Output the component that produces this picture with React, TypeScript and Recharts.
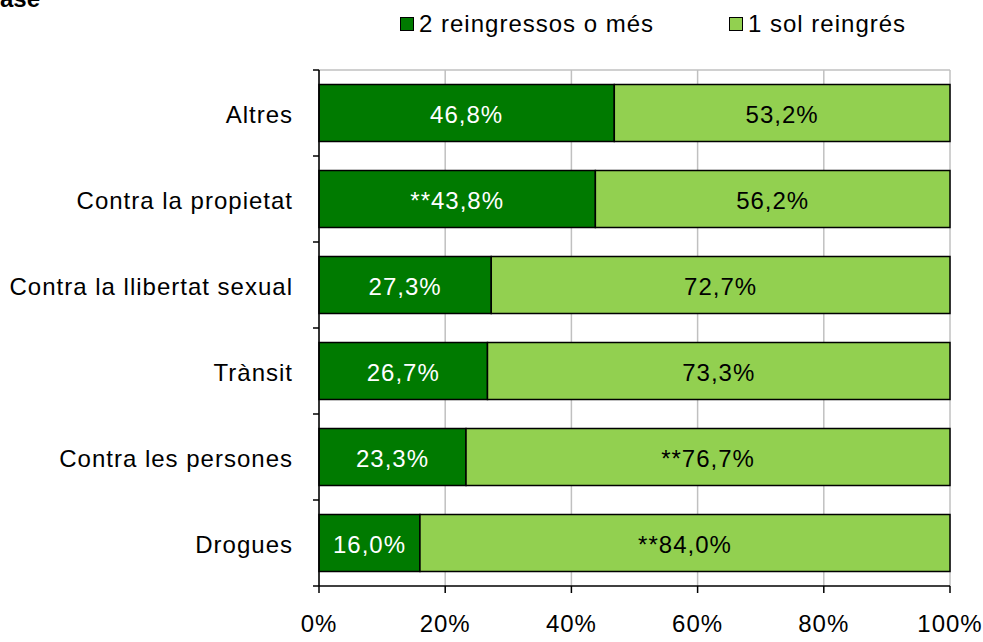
import React from 'react';
import { BarChart, Bar, XAxis, YAxis, CartesianGrid, LabelList } from 'recharts';

const categories = [
  'Altres',
  'Contra la propietat',
  'Contra la llibertat sexual',
  'Trànsit',
  'Contra les persones',
  'Drogues',
];
const twoOrMore = [46.8, 43.8, 27.3, 26.7, 23.3, 16.0];
const oneOnly = [53.2, 56.2, 72.7, 73.3, 76.7, 84.0];
// "**" marks significant differences
const twoOrMoreStars = [false, true, false, false, false, false];
const oneOnlyStars = [false, false, false, false, true, true];
const seriesNames = ['2 reingressos o més', '1 sol reingrés'];
const xTicks = [0, 20, 40, 60, 80, 100];

const DARK = '#007A00';
const LIGHT = '#92D050';
const FONT = 'Arial, "Liberation Sans", sans-serif';
const LS = 1.0;

const W = 983;
const H = 642;
const MARGIN = { top: 70, right: 33, bottom: 6, left: 0 };
const X_AXIS_H = 50;
const Y_AXIS_W = 319;
const Y_TICK = 6;
const Y_TICK_MARGIN = 20;

const data = categories.map((c, i) => ({
  name: c,
  two: twoOrMore[i],
  one: oneOnly[i],
}));

const fmt = (v: number, star: boolean) => (star ? '**' : '') + v.toFixed(1).replace('.', ',') + '%';

const bandSize = (H - MARGIN.top - MARGIN.bottom - X_AXIS_H) / categories.length;

const CategoryTick = (props: any) => {
  const { x, y, payload, index } = props;
  const axisX = x + Y_TICK + Y_TICK_MARGIN;
  return (
    <g>
      <line x1={axisX - Y_TICK} x2={axisX} y1={y - bandSize / 2} y2={y - bandSize / 2} stroke="#000" strokeWidth={1.5} />
      {index === categories.length - 1 && (
        <line x1={axisX - Y_TICK} x2={axisX} y1={y + bandSize / 2} y2={y + bandSize / 2} stroke="#000" strokeWidth={1.5} />
      )}
      <text x={x} y={y} dy="0.42em" textAnchor="end" fill="#000" fontSize={24} fontFamily={FONT} letterSpacing={LS}>
        {payload.value}
      </text>
    </g>
  );
};

const makeLabel = (stars: boolean[], color: string) => (props: any) => {
  const { x, y, width, height, value, index } = props;
  return (
    <text
      x={x + width / 2}
      y={y + height / 2}
      dy="0.4em"
      textAnchor="middle"
      fill={color}
      fontSize={24}
      fontFamily={FONT}
      letterSpacing={LS}
    >
      {fmt(value, stars[index])}
    </text>
  );
};

const ChartLegend = () => (
  <div style={{ position: 'absolute', top: 10, left: 400, width: 560, height: 30, fontFamily: FONT, fontSize: 24, letterSpacing: LS }}>
    {[DARK, LIGHT].map((col, i) => (
      <div
        key={i}
        style={{ position: 'absolute', left: i === 0 ? 0 : 329, top: 0, display: 'flex', alignItems: 'center', whiteSpace: 'nowrap' }}
      >
        <span style={{ display: 'inline-block', width: 12, height: 12, background: col, border: '1.5px solid #000', marginRight: 5 }} />
        <span>{seriesNames[i]}</span>
      </div>
    ))}
  </div>
);

export default function App() {
  return (
    <div style={{ position: 'absolute', left: 0, top: 0, width: W, height: H, background: '#fff', overflow: 'hidden' }}>
      <svg width={120} height={20} style={{ position: 'absolute', left: 0, top: 0 }}>
        <text x={0} y={7} fontSize={24} fontWeight="bold" fontFamily={FONT}>ase</text>
      </svg>
      <ChartLegend />
      <BarChart
        width={W}
        height={H}
        data={data}
        layout="vertical"
        margin={MARGIN}
        barCategoryGap="17%"
      >
        <CartesianGrid
          stroke="#C0C0C0"
          strokeWidth={1.5}
          vertical={true}
          horizontal={true}
          horizontalCoordinatesGenerator={({ offset }: any) => [offset.top]}
        />
        <XAxis
          type="number"
          domain={[0, 100]}
          ticks={xTicks}
          tickFormatter={(v: number) => `${v}%`}
          height={X_AXIS_H}
          tickSize={7}
          tickMargin={22}
          axisLine={{ stroke: '#000', strokeWidth: 1.5 }}
          tickLine={{ stroke: '#000', strokeWidth: 1.5 }}
          tick={{ fill: '#000', fontSize: 24, fontFamily: FONT, letterSpacing: LS }}
          interval={0}
        />
        <YAxis
          type="category"
          dataKey="name"
          width={Y_AXIS_W}
          tickSize={Y_TICK}
          tickMargin={Y_TICK_MARGIN}
          tickLine={false}
          axisLine={{ stroke: '#000', strokeWidth: 1.5 }}
          tick={<CategoryTick />}
          interval={0}
        />
        <Bar dataKey="two" name={seriesNames[0]} stackId="a" fill={DARK} stroke="#000" strokeWidth={1.5} isAnimationActive={false}>
          <LabelList dataKey="two" content={makeLabel(twoOrMoreStars, '#fff')} />
        </Bar>
        <Bar dataKey="one" name={seriesNames[1]} stackId="a" fill={LIGHT} stroke="#000" strokeWidth={1.5} isAnimationActive={false}>
          <LabelList dataKey="one" content={makeLabel(oneOnlyStars, '#000')} />
        </Bar>
      </BarChart>
    </div>
  );
}
